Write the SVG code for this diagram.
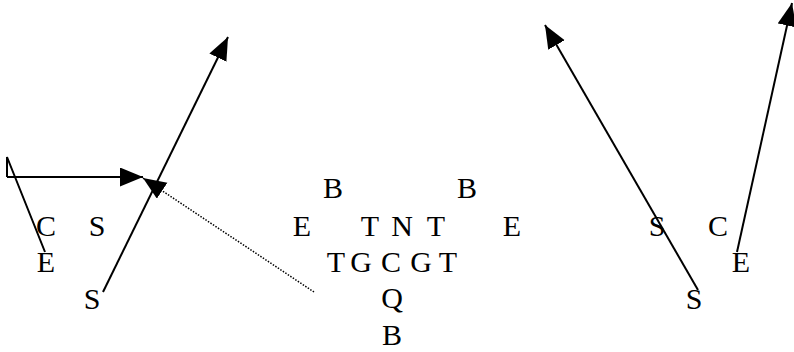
<svg xmlns="http://www.w3.org/2000/svg" width="794" height="352" viewBox="0 0 794 352">
  <style>
    .lbl { font-family: "Liberation Serif", "Times New Roman", serif; font-size: 30px; fill: #000; text-anchor: middle; }
    .ln { stroke: #000; stroke-width: 2; fill: none; }
    .dot { stroke: #000; stroke-width: 1.5; fill: none; stroke-dasharray: 1.5 1.5; }
  </style>
  <defs>
    <marker id="ah" markerUnits="userSpaceOnUse" markerWidth="26" markerHeight="20" refX="23" refY="9.5" orient="auto" viewBox="0 0 26 20">
      <path d="M0,0 L23,9.5 L0,19 Z" fill="#000"/>
    </marker>
  </defs>
  <rect width="794" height="352" fill="#fff"/>
  <g id="connectors">
    <polyline class="ln" points="7,177 7,157 45,252"/>
    <line class="ln" x1="7" y1="177" x2="143" y2="177" marker-end="url(#ah)"/>
    <line class="ln" x1="103" y1="292" x2="228" y2="37" marker-end="url(#ah)"/>
    <line class="dot" x1="314" y1="292" x2="143" y2="178" marker-end="url(#ah)"/>
    <line class="ln" x1="698" y1="290" x2="545" y2="25" marker-end="url(#ah)"/>
    <line class="ln" x1="737" y1="252" x2="792" y2="3" marker-end="url(#ah)"/>
  </g>
  <g id="left">
    <g id="l-C"><text class="lbl" x="46" y="236">C</text></g>
    <g id="l-S1"><text class="lbl" x="97" y="236">S</text></g>
    <g id="l-E"><text class="lbl" x="46" y="272">E</text></g>
    <g id="l-S2"><text class="lbl" x="92" y="309">S</text></g>
  </g>
  <g id="middle">
    <g id="m-B1"><text class="lbl" x="333" y="198">B</text></g>
    <g id="m-B2"><text class="lbl" x="467" y="198">B</text></g>
    <g id="m-E1"><text class="lbl" x="302" y="236">E</text></g>
    <g id="m-T1"><text class="lbl" x="370" y="236">T</text></g>
    <g id="m-N"><text class="lbl" x="402" y="236">N</text></g>
    <g id="m-T2"><text class="lbl" x="436" y="236">T</text></g>
    <g id="m-E2"><text class="lbl" x="512" y="236">E</text></g>
    <g id="m-T3"><text class="lbl" x="336" y="272">T</text></g>
    <g id="m-G1"><text class="lbl" x="361" y="272">G</text></g>
    <g id="m-C"><text class="lbl" x="391" y="272">C</text></g>
    <g id="m-G2"><text class="lbl" x="421" y="272">G</text></g>
    <g id="m-T4"><text class="lbl" x="448" y="272">T</text></g>
    <g id="m-Q"><text class="lbl" x="392" y="308">Q</text></g>
    <g id="m-B3"><text class="lbl" x="392" y="345">B</text></g>
  </g>
  <g id="right">
    <g id="r-S1"><text class="lbl" x="657" y="236">S</text></g>
    <g id="r-C"><text class="lbl" x="718" y="236">C</text></g>
    <g id="r-E"><text class="lbl" x="741" y="272">E</text></g>
    <g id="r-S2"><text class="lbl" x="694" y="309">S</text></g>
  </g>
</svg>
